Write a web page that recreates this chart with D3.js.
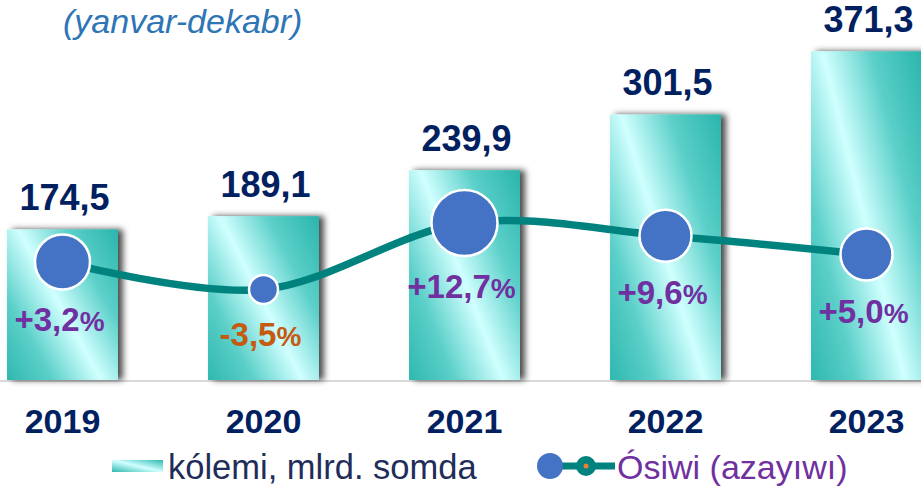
<!DOCTYPE html>
<html>
<head>
<meta charset="utf-8">
<script src="https://cdn.jsdelivr.net/npm/d3@7/dist/d3.min.js"></script>
<style>
  html, body { margin: 0; padding: 0; background: #fff; }
  svg { display: block; font-family: "Liberation Sans", Arial, sans-serif; }
</style>
</head>
<body>
<svg id="chart" width="921" height="486"></svg>
<script>
// ---- data ----
const years = ["2019", "2020", "2021", "2022", "2023"];
const volume = [174.5, 189.1, 239.9, 301.5, 371.3];
const growth = [3.2, -3.5, 12.7, 9.6, 5.0];
const volumeLabels = ["174,5", "189,1", "239,9", "301,5", "371,3"];
const growthLabels = ["+3,2", "-3,5", "+12,7", "+9,6", "+5,0"];
const title = "(yanvar-dekabr)";
const legendBar = "kólemi, mlrd. somda";
const legendLine = "Ósiwi (azayıwı)";
// marker sizes (style)
const markerRadius = [27.5, 14.5, 33, 26, 26];

const W = 921, H = 486;
const svg = d3.select("#chart");
const defs = svg.append("defs");

const grad = defs.append("linearGradient")
  .attr("id", "barGrad")
  .attr("gradientUnits", "objectBoundingBox")
  .attr("x1", -0.10).attr("y1", 0.93)
  .attr("x2", 1.05).attr("y2", 0.07);
grad.append("stop").attr("offset", 0).attr("stop-color", "#2AB5AC");
grad.append("stop").attr("offset", 0.25).attr("stop-color", "#5ACFC8");
grad.append("stop").attr("offset", 0.5).attr("stop-color", "#D0FFFF");
grad.append("stop").attr("offset", 0.75).attr("stop-color", "#5ACFC8");
grad.append("stop").attr("offset", 1).attr("stop-color", "#2AB5AC");

const legGrad = defs.append("linearGradient")
  .attr("id", "legGrad")
  .attr("x1", 0).attr("y1", 1).attr("x2", 1).attr("y2", 0);
legGrad.append("stop").attr("offset", 0).attr("stop-color", "#2DB8AF");
legGrad.append("stop").attr("offset", 0.5).attr("stop-color", "#D0FFFF");
legGrad.append("stop").attr("offset", 1).attr("stop-color", "#2DB8AF");

const shadow = defs.append("filter").attr("id", "shadow")
  .attr("x", "-20%").attr("y", "-20%").attr("width", "150%").attr("height", "140%");
shadow.append("feDropShadow")
  .attr("dx", 5).attr("dy", 0).attr("stdDeviation", 3)
  .attr("flood-color", "#000").attr("flood-opacity", 0.7);

// ---- scales ----
const x = d3.scaleBand().domain(years).range([-38, 967])
  .paddingInner(0.448).paddingOuter(0.224);
const y = d3.scaleLinear().domain([8, 428]).range([380, 0]);
const y2 = d3.scaleLinear().domain([-25.6, 67.1]).range([380, 0]);

// title
svg.append("text")
  .attr("x", 63).attr("y", 33)
  .attr("font-size", 34).attr("font-style", "italic")
  .attr("fill", "#2E75B6")
  .text(title);

// baseline
svg.append("line")
  .attr("x1", 0).attr("x2", W).attr("y1", 381).attr("y2", 381)
  .attr("stroke", "#D9D9D9").attr("stroke-width", 2);

// bars
svg.append("g").selectAll("rect").data(years).join("rect")
  .attr("x", d => x(d))
  .attr("width", x.bandwidth())
  .attr("y", (d, i) => y(volume[i]))
  .attr("height", (d, i) => y(y.domain()[0]) - y(volume[i]))
  .attr("fill", "url(#barGrad)")
  .attr("filter", "url(#shadow)");

// value labels
svg.append("g").selectAll("text").data(years).join("text")
  .attr("x", d => x(d) + x.bandwidth() / 2 + 2)
  .attr("y", (d, i) => y(volume[i]) - 19)
  .attr("text-anchor", "middle")
  .attr("font-size", 36).attr("font-weight", "bold")
  .attr("fill", "#002060")
  .text((d, i) => volumeLabels[i]);

// line
const cx = d => x(d) + x.bandwidth() / 2;
const lineGen = d3.line()
  .x(d => cx(d))
  .y((d, i) => y2(growth[i]))
  .curve(d3.curveCatmullRom.alpha(0));
svg.append("path")
  .datum(years)
  .attr("d", lineGen)
  .attr("fill", "none")
  .attr("stroke", "#00827F")
  .attr("stroke-width", 7.5);

// markers
svg.append("g").selectAll("circle").data(years).join("circle")
  .attr("cx", d => cx(d))
  .attr("cy", (d, i) => y2(growth[i]))
  .attr("r", (d, i) => markerRadius[i])
  .attr("fill", "#4472C4")
  .attr("stroke", "#fff").attr("stroke-width", 2.5);

// growth labels
const gl = svg.append("g").selectAll("text").data(years).join("text")
  .attr("x", d => cx(d) - 3)
  .attr("y", (d, i) => y2(growth[i]) + markerRadius[i] + 42)
  .attr("text-anchor", "middle")
  .attr("font-weight", "bold")
  .attr("fill", (d, i) => growth[i] < 0 ? "#C55A11" : "#7030A0");
gl.append("tspan").attr("font-size", 33).text((d, i) => growthLabels[i]);
gl.append("tspan").attr("font-size", 28).text("%");

// year labels
svg.append("g").selectAll("text").data(years).join("text")
  .attr("x", d => cx(d))
  .attr("y", 433)
  .attr("text-anchor", "middle")
  .attr("font-size", 34).attr("font-weight", "bold")
  .attr("fill", "#002060")
  .text(d => d);

// legend
svg.append("rect")
  .attr("x", 112).attr("y", 460).attr("width", 51).attr("height", 12)
  .attr("fill", "url(#legGrad)");
svg.append("text")
  .attr("x", 168).attr("y", 479)
  .attr("font-size", 34.5).attr("fill", "#1F2D5A")
  .text(legendBar);

svg.append("line")
  .attr("x1", 560).attr("x2", 615).attr("y1", 466).attr("y2", 466)
  .attr("stroke", "#00827F").attr("stroke-width", 7);
svg.append("circle").attr("cx", 550).attr("cy", 466).attr("r", 13).attr("fill", "#4472C4");
svg.append("circle").attr("cx", 586).attr("cy", 466).attr("r", 10).attr("fill", "#00827F");
svg.append("circle").attr("cx", 586).attr("cy", 466).attr("r", 2.5).attr("fill", "#ED7D31");
svg.append("text")
  .attr("x", 617).attr("y", 479)
  .attr("font-size", 34).attr("fill", "#7030A0")
  .text(legendLine);
</script>
</body>
</html>
